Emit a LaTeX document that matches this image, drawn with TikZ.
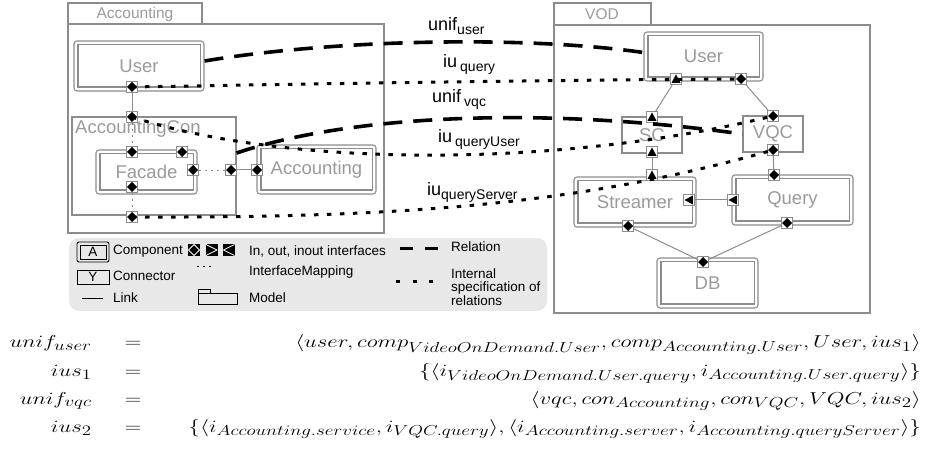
\documentclass[tikz,border=0pt]{standalone}
\usepackage[no-math]{fontspec}
\setmainfont{Liberation Sans}
\usepackage{graphicx}
\usetikzlibrary{calc}

\definecolor{linegray}{HTML}{8C8C8C}
\definecolor{txtgray}{HTML}{9A9A9A}
\definecolor{legendbg}{HTML}{E8E8E8}

% component: rounded outer frame plus an inner frame
\newcommand\compbox[6]{%
  \node[compo, minimum width=#4pt, minimum height=#5pt] (#1) at (#2,#3) {#6};
  \draw[boxline] ([xshift=4.5pt,yshift=-4.5pt]#1.north west) rectangle ([xshift=-4.5pt,yshift=4.5pt]#1.south east);
}
% horizontally stretched formula text
\newcommand\sx[1]{\scalebox{1.32}[1]{#1}}

\tikzset{
  boxline/.style={draw=linegray, line width=1.1pt},
  compo/.style={boxline, rounded corners=3pt, inner sep=0pt, text=txtgray, font=\fontsize{18.5}{20}\selectfont},
  conn/.style={boxline, inner sep=0pt, text=txtgray, font=\fontsize{18.5}{20}\selectfont},
  port/.style={draw=linegray, fill=white, line width=0.9pt, minimum size=11pt, inner sep=0pt},
  pdia/.style={port, path picture={\fill[black] (path picture bounding box.center) +(0,-5) -- +(5,0) -- +(0,5) -- +(-5,0) -- cycle;}},
  ptriup/.style={port, path picture={\fill[black] (path picture bounding box.center) +(0,-4.5) -- +(4.5,3.8) -- +(-4.5,3.8) -- cycle;}},
  ptrileft/.style={port, path picture={\fill[black] (path picture bounding box.center) +(-4.5,0) -- +(3.8,-4.5) -- +(3.8,4.5) -- cycle;}},
  lnk/.style={draw=linegray, line width=1pt},
  imap/.style={draw=linegray, line width=0.9pt, dash pattern=on 2pt off 4pt},
  rel/.style={draw=black, line width=3.6pt, dash pattern=on 19pt off 11pt},
  spec/.style={draw=black, line width=3pt, dash pattern=on 4.5pt off 8.5pt},
  lbl/.style={font=\fontsize{18}{20}\selectfont, inner sep=0pt, anchor=west},
  leg/.style={font=\fontsize{13.5}{15}\selectfont, inner sep=0pt, anchor=west},
  eqf/.style={inner sep=0pt, font=\fontsize{19}{22}\selectfont},
}

\begin{document}
\begin{tikzpicture}[x=1pt,y=-1pt]
\useasboundingbox (0,0) rectangle (935,449);

% ---------- Accounting model ----------
\draw[boxline] (68,3) rectangle (202,24);
\node[font=\fontsize{15.5}{17}\selectfont, text=txtgray] (tabAcc) at (135,14) {Accounting};
\draw[boxline] (68,24) rectangle (384,233);

\compbox{aUser}{139}{66}{130}{50}{User}
\node[pdia] (aUp) at (132,87) {};

\node[conn, minimum width=164pt, minimum height=98pt] (acon) at (154,166) {};
\node[anchor=west, inner sep=0pt, text=txtgray, font=\fontsize{18.5}{20}\selectfont] (aconLbl) at (75,129) {AccountingCon};

\compbox{facade}{146.5}{172}{101}{44}{Facade}
\compbox{accComp}{316.5}{169.5}{119}{49}{Accounting}

\node[pdia] (acTop) at (132,117) {};
\node[pdia] (acBot) at (132,217) {};
\node[pdia] (acRight) at (231,170) {};
\node[pdia] (fTopL) at (132,152) {};
\node[pdia] (fTopR) at (182,152) {};
\node[pdia] (fRight) at (193,170) {};
\node[pdia] (fBot) at (132,187) {};
\node[pdia] (accL) at (257,170) {};

\draw[lnk] (aUp) -- (acTop);
\draw[lnk] (acRight) -- (accL);
\draw[imap] (acTop) -- (fTopL);
\draw[imap] (fBot) -- (acBot);
\draw[imap] (fRight) -- (acRight);

% ---------- VOD model ----------
\draw[boxline] (554,3) rectangle (651,25);
\node[font=\fontsize{15.5}{17}\selectfont, text=txtgray] (tabVod) at (602,14) {VOD};
\draw[boxline] (554,25) rectangle (870,313);

\compbox{vUser}{703.5}{56.5}{119}{49}{User}
\node[conn, minimum width=60pt, minimum height=36pt] (sc) at (652,135) {SC};
\node[conn, minimum width=60pt, minimum height=36pt] (vqc) at (773,134) {VQC};
\compbox{streamer}{635}{202}{122}{50}{Streamer}
\compbox{query}{792.5}{200}{121}{50}{Query}
\compbox{db}{707.5}{283}{101}{50}{DB}

\node[ptriup] (vuL) at (676,79) {};
\node[pdia] (vuR) at (741,79) {};
\node[ptriup] (scTop) at (652,117) {};
\node[ptriup] (scBot) at (652,152) {};
\node[pdia] (vqTop) at (773,116) {};
\node[pdia] (vqBot) at (773,150) {};
\node[ptriup] (stTop) at (652,175) {};
\node[ptrileft] (stR) at (689,200) {};
\node[pdia] (stBot) at (628,226) {};
\node[pdia] (qTop) at (774,175) {};
\node[ptrileft] (qL) at (733,200) {};
\node[pdia] (qBot) at (787,223) {};
\node[pdia] (dbTop) at (703,262) {};

\draw[lnk] (vuL) -- (scTop);
\draw[lnk] (vuR) -- (vqTop);
\draw[lnk] (scBot) -- (stTop);
\draw[lnk] (vqBot) -- (qTop);
\draw[lnk] (qL) -- (stR);
\draw[lnk] (stBot) -- (dbTop);
\draw[lnk] (qBot) -- (dbTop);

% ---------- relations between the two models ----------
\coordinate (uStart) at ([yshift=5pt]aUser.east);
\coordinate (uEnd) at ([yshift=4pt]vUser.west);
\draw[rel] (uStart) .. controls (330,40) and (520,35) .. (uEnd);
\draw[spec] (aUp.center) .. controls (300,84) and (550,80) .. (vuR.center);
\coordinate (vStart) at ([yshift=13pt]acon.east);
\draw[rel] (vStart) .. controls (350,115) and (540,106) .. (vqc.west);
\draw[spec] (acTop.center) .. controls (290,168) and (560,168) .. (vqTop.center);
\draw[spec] (acBot.center) .. controls (400,218) and (580,205) .. (vqBot.center);

\node[lbl] (lUnifUser) at (428,26) {unif\raisebox{-4pt}{\fontsize{14}{14}\selectfont user}};
\node[lbl] (lIuQuery) at (443,64) {iu\,\raisebox{-4pt}{\fontsize{14}{14}\selectfont query}};
\node[lbl] (lUnifVqc) at (432,99) {unif\,\raisebox{-4pt}{\fontsize{14}{14}\selectfont vqc}};
\node[lbl] (lIuQU) at (438,139) {iu\,\raisebox{-4pt}{\fontsize{14}{14}\selectfont queryUser}};
\node[lbl] (lIuQS) at (427,192) {iu\raisebox{-4pt}{\fontsize{14}{14}\selectfont queryServer}};

% ---------- legend ----------
\fill[legendbg, rounded corners=10pt] (69,238) rectangle (547,311);

\draw[black, line width=0.9pt, rounded corners=2pt] (77,242) rectangle (109,262);
\draw[black, line width=0.9pt] (80,245) rectangle (106,259);
\node[leg, anchor=center] (legA) at (93,252) {A};
\node[leg] (legComp) at (113,251) {Component};

\fill[black] (188,244) rectangle (200,256);
\draw[white, line width=0.8pt] (194,244.5) -- (199.5,250) -- (194,255.5) -- (188.5,250) -- cycle;
\fill[black] (205.5,244) rectangle (217.5,256);
\draw[white, line width=0.8pt] (206,244.5) -- (217,250) -- (206,255.5);
\fill[black] (223,244) rectangle (235,256);
\draw[white, line width=0.8pt] (234.5,244.5) -- (223.5,250) -- (234.5,255.5);
\node[leg] (legIf) at (249,251) {In, out, inout interfaces};

\draw[black, line width=3pt, dash pattern=on 13pt off 12pt] (400,249) -- (438,249);
\node[leg] (legRel) at (451,247) {Relation};

\draw[black, line width=0.9pt] (77,270) rectangle (109,284);
\node[leg, anchor=center] (legY) at (93,277) {Y};
\node[leg] (legConn) at (113,276) {Connector};

\draw[black, line width=0.8pt, dash pattern=on 2pt off 4pt] (197,266) -- (214,266);
\node[leg] (legMap) at (249,272) {InterfaceMapping};

\draw[black, line width=3pt, dash pattern=on 4pt off 12.5pt] (396,282) -- (434,282);
\node[leg, align=left] (legSpec) at (451,287) {Internal\\[-1.5pt]specification of\\[-1.5pt]relations};

\draw[black, line width=0.9pt] (82,298) -- (103,298);
\node[leg] (legLink) at (113,298) {Link};

\draw[black, line width=0.9pt] (198,293) rectangle (210,289);
\draw[black, line width=0.9pt] (198,293) rectangle (237,304);
\node[leg] (legModel) at (249,298) {Model};

% ---------- formulas ----------
\node[eqf, anchor=base east] (e1l) at (92,348) {\sx{$unif_{user}$}};
\node[eqf, anchor=base] (e1m) at (133,348) {\sx{$=$}};
\node[eqf, anchor=base east] (e1r) at (921,348) {\sx{$\langle user, comp_{VideoOnDemand.User}, comp_{Accounting.User}, User, ius_1\rangle$}};

\node[eqf, anchor=base east] (e2l) at (92,376) {\sx{$ius_1$}};
\node[eqf, anchor=base] (e2m) at (133,376) {\sx{$=$}};
\node[eqf, anchor=base east] (e2r) at (921,376) {\sx{$\{\langle i_{VideoOnDemand.User.query}, i_{Accounting.User.query}\rangle\}$}};

\node[eqf, anchor=base east] (e3l) at (92,404) {\sx{$unif_{vqc}$}};
\node[eqf, anchor=base] (e3m) at (133,404) {\sx{$=$}};
\node[eqf, anchor=base east] (e3r) at (921,404) {\sx{$\langle vqc, con_{Accounting}, con_{VQC}, VQC, ius_2\rangle$}};

\node[eqf, anchor=base east] (e4l) at (92,432) {\sx{$ius_2$}};
\node[eqf, anchor=base] (e4m) at (133,432) {\sx{$=$}};
\node[eqf, anchor=base east] (e4r) at (921,432) {\sx{$\{\langle i_{Accounting.service}, i_{VQC.query}\rangle, \langle i_{Accounting.server}, i_{Accounting.queryServer}\rangle\}$}};
\end{tikzpicture}
\end{document}
